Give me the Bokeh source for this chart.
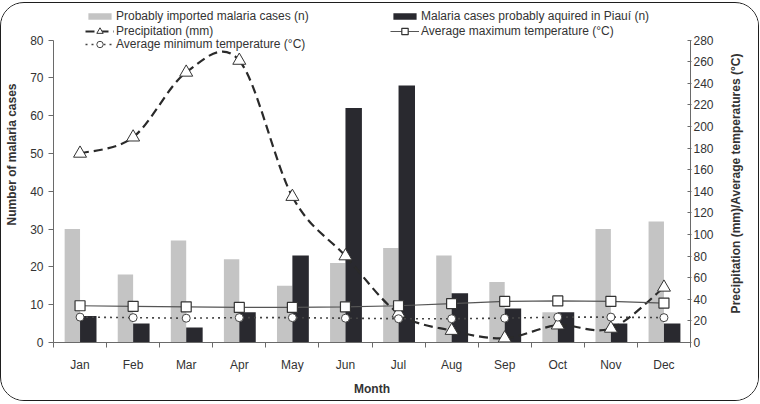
import math
from bokeh.plotting import figure
from bokeh.layouts import row
from bokeh.models import (Range1d, LinearAxis, FixedTicker, SingleIntervalTicker, Legend,
                          LegendItem, ColumnDataSource, Label)
from bokeh.transform import dodge
from bokeh.embed import file_html
from bokeh.resources import INLINE

months = ["Jan", "Feb", "Mar", "Apr", "May", "Jun", "Jul", "Aug", "Sep", "Oct", "Nov", "Dec"]
imported = [30, 18, 27, 22, 15, 21, 25, 23, 16, 8, 30, 32]
piaui = [7, 5, 4, 8, 23, 62, 68, 13, 9, 8, 5, 5]
precip = [175, 190, 250, 261, 135, 80, 27, 11, 4, 16, 13, 51]
tmax = [34, 33.5, 33, 32.5, 32.5, 33, 34, 36, 38, 38.5, 38, 36.5]
tmin = [23.5, 23, 22.5, 23, 23, 22.5, 22, 22, 22.5, 23.5, 23.5, 23]
left_max, right_max = 80, 280

FONT = "Liberation Sans"
GRAY = "#c4c4c4"
DARK = "#29292f"
LINE = "#2a2a2a"
AXIS = "#6a6a6a"
TXT = "#333333"

# layout (pixels)
H = 397
WL, WP, WR = 25, 694, 38
TOP, BOTTOM = 4, 58
frame_h = H - TOP - BOTTOM
axis_h = 302.5  # pixel height of the 0..80 span
yscale = frame_h / axis_h

idx = list(range(len(months)))
src = ColumnDataSource(dict(xi=idx, month=months, imported=imported, piaui=piaui,
                            precip=precip, tmax=tmax, tmin=tmin))

p = figure(width=WP, height=H, x_range=Range1d(-0.5, len(months) - 0.5),
           y_range=Range1d(0, left_max * yscale), output_backend="svg", toolbar_location=None,
           x_axis_location=None, y_axis_location=None,
           min_border_left=27, min_border_right=30, min_border_top=TOP, min_border_bottom=BOTTOM)
p.extra_y_ranges = {"right": Range1d(0, right_max * yscale)}
p.outline_line_color = None
p.grid.grid_line_color = None
p.background_fill_color = "white"
p.border_fill_color = "white"

def style_axis(ax):
    ax.axis_line_color = AXIS
    ax.major_tick_line_color = AXIS
    ax.minor_tick_line_color = AXIS
    ax.major_label_text_font = FONT
    ax.major_label_text_font_size = "12px"
    ax.major_label_text_color = TXT
    ax.axis_label_text_font = FONT
    ax.axis_label_text_font_size = "12px"
    ax.axis_label_text_font_style = "bold"
    ax.axis_label_text_color = TXT

yl = LinearAxis(ticker=SingleIntervalTicker(interval=10), bounds=(0, left_max))
style_axis(yl)
yl.major_tick_out = 5
yl.major_tick_in = 0
yl.minor_tick_out = 0
yl.minor_tick_in = 0
yl.major_label_standoff = 5
p.add_layout(yl, "left")

yr = LinearAxis(y_range_name="right", ticker=SingleIntervalTicker(interval=20),
                bounds=(0, right_max))
style_axis(yr)
yr.major_tick_out = 1
yr.major_tick_in = 3
yr.minor_tick_out = 0
yr.minor_tick_in = 0
yr.major_label_standoff = 2
p.add_layout(yr, "right")

bounds = [i - 0.5 for i in range(len(months) + 1)]
xa = LinearAxis(ticker=FixedTicker(ticks=idx, minor_ticks=bounds),
                major_label_overrides={i: m for i, m in zip(idx, months)}, axis_label="Month")
style_axis(xa)
xa.major_tick_out = 0
xa.major_tick_in = 0
xa.minor_tick_out = 5
xa.minor_tick_in = 0
xa.major_label_standoff = 10
xa.axis_label_standoff = 7
p.add_layout(xa, "below")

# bars
r_imp = p.vbar(x=dodge("xi", -0.145), top="imported", width=0.29,
               source=src, fill_color=GRAY, line_color=None)
r_pia = p.vbar(x=dodge("xi", 0.155), top="piaui", width=0.31,
               source=src, fill_color=DARK, line_color=None)

# precipitation smoothed curve (cubic bezier segments through the data points)
n = len(precip)
x0, y0, x1, y1, cx0, cy0, cx1, cy1 = [], [], [], [], [], [], [], []
for i in range(n - 1):
    im1 = max(i - 1, 0)
    ip2 = min(i + 2, n - 1)
    x0.append(idx[i]); y0.append(precip[i])
    x1.append(idx[i + 1]); y1.append(precip[i + 1])
    cx0.append(idx[i] + (idx[i + 1] - idx[im1]) / 6)
    cy0.append(precip[i] + (precip[i + 1] - precip[im1]) / 6)
    cx1.append(idx[i + 1] - (idx[ip2] - idx[i]) / 6)
    cy1.append(precip[i + 1] - (precip[ip2] - precip[i]) / 6)
r_pc = p.bezier(x0=x0, y0=y0, x1=x1, y1=y1, cx0=cx0, cy0=cy0, cx1=cx1, cy1=cy1,
                y_range_name="right", line_color=LINE, line_width=2.2, line_dash="9 5")

r_maxl = p.line("xi", "tmax", source=src, y_range_name="right", line_color="#555555",
                line_width=1.2)
r_minl = p.line("xi", "tmin", source=src, y_range_name="right", line_color="#444444",
                line_width=1.6, line_dash="2 4")

r_pm = p.scatter("xi", "precip", source=src, y_range_name="right", marker="triangle",
                 size=13, fill_color="white", line_color="#333333", line_width=1)
r_maxm = p.scatter("xi", "tmax", source=src, y_range_name="right", marker="square",
                   size=10, fill_color="white", line_color="#333333", line_width=1.2)
r_minm = p.scatter("xi", "tmin", source=src, y_range_name="right", marker="circle",
                   size=8, fill_color="white", line_color="#444444", line_width=1)

def make_legend(label, renderers, x, y, gh):
    lg = Legend(items=[LegendItem(label=label, renderers=renderers)], location=(x, y),
                orientation="vertical", glyph_width=29, glyph_height=gh, label_height=13,
                label_standoff=2, padding=0, margin=0, spacing=0,
                border_line_color=None, background_fill_alpha=0,
                label_text_font=FONT, label_text_font_size="12px", label_text_color=TXT)
    p.add_layout(lg)

make_legend("Probably imported malaria cases (n)", [r_imp], 32, 319, 8)
make_legend("Malaria cases probably aquired in Piauí (n)", [r_pia], 337, 319, 8)
make_legend("Precipitation (mm)", [r_pc, r_pm], 32, 303, 16)
make_legend("Average maximum temperature (°C)", [r_maxl, r_maxm], 337, 303, 16)
make_legend("Average minimum temperature (°C)", [r_minl, r_minm], 32, 290, 16)

# side strips carrying the rotated axis titles (their frames align with the main frame,
# so y is measured up from the x-axis line)
def side_strip(w, text, sx, sy):
    f = figure(width=w, height=H, x_range=Range1d(0, 1), y_range=Range1d(0, 1),
               output_backend="svg", toolbar_location=None, x_axis_location=None,
               y_axis_location=None, min_border=0)
    f.outline_line_color = None
    f.grid.grid_line_color = None
    f.add_layout(Label(x=sx, y=sy, x_units="screen", y_units="screen", text=text,
                       angle=math.pi / 2, text_align="center", text_baseline="middle",
                       text_font=FONT, text_font_size="12px", text_font_style="bold",
                       text_color=TXT))
    return f

pL = side_strip(WL, "Number of malaria cases", 10.5, 188)
pR = side_strip(WR, "Precipitation (mm)/Average temperatures (°C)", 15.5, 159)

lay = row(pL, p, pR, spacing=0,
          styles={"border": "1.5px solid #1e1e1e", "border-radius": "24px",
                  "margin-top": "2px", "overflow": "hidden", "background": "white"})

open("out.html", "w").write(file_html(lay, INLINE))
